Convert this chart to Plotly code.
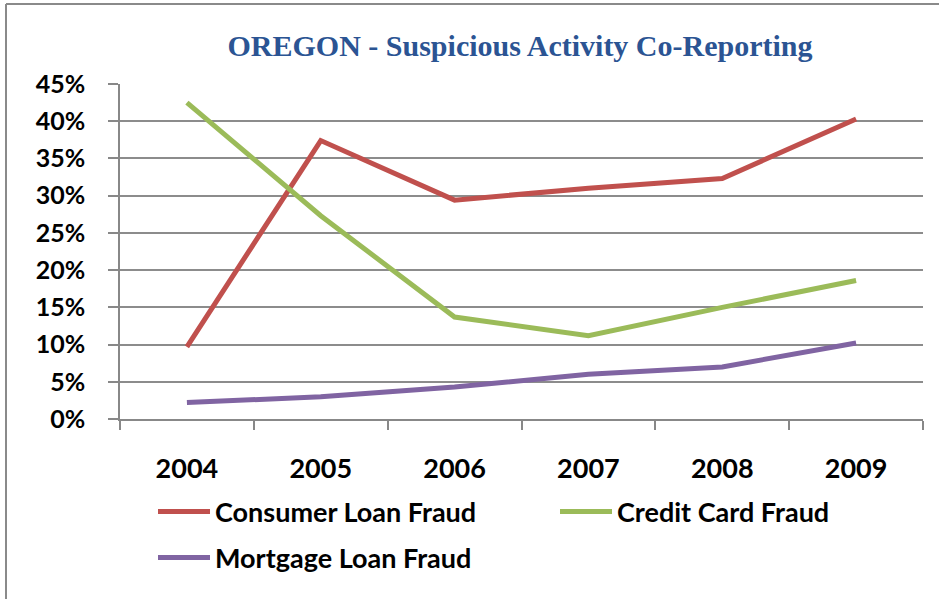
import plotly.graph_objects as go

years = ["2004", "2005", "2006", "2007", "2008", "2009"]
consumer = [9.7, 37.4, 29.4, 31.0, 32.3, 40.3]
credit = [42.5, 27.3, 13.7, 11.2, 15.0, 18.6]
mortgage = [2.2, 3.0, 4.3, 6.0, 7.0, 10.2]
ytick_vals = [0, 5, 10, 15, 20, 25, 30, 35, 40, 45]
ytick_text = [f"{v}%" for v in ytick_vals]

W, H = 939, 599
L, R, T, B = 120, 16, 84, 180
PW, PH = W - L - R, H - T - B

def px(x):
    return (x - L) / PW

def py(y):
    return (H - B - y) / PH

FONT = "Lato"
fig = go.Figure()
series = [
    ("Consumer Loan Fraud", consumer, "#C0504D", "legend"),
    ("Credit Card Fraud", credit, "#9BBB59", "legend2"),
    ("Mortgage Loan Fraud", mortgage, "#8064A2", "legend3"),
]
for name, vals, col, lg in series:
    fig.add_trace(go.Scatter(x=years, y=vals, name=name, mode="lines",
                             line=dict(color=col, width=5), legend=lg))

legend_common = dict(orientation="h", xanchor="left", yanchor="middle",
                     font=dict(family=FONT, size=27, color="black", weight="bold"),
                     itemwidth=52, bgcolor="rgba(0,0,0,0)")
fig.update_layout(
    width=W, height=H,
    margin=dict(l=L, r=R, t=T, b=B, autoexpand=False),
    paper_bgcolor="white", plot_bgcolor="white",
    title=dict(text="<b>OREGON - Suspicious Activity Co-Reporting</b>",
               font=dict(family="Liberation Serif", size=30, color="#2B5493"),
               x=520 / W, xanchor="center", y=1 - 45 / H, yanchor="middle"),
    legend=dict(x=px(153), y=py(512), **legend_common),
    legend2=dict(x=px(555), y=py(512), **legend_common),
    legend3=dict(x=px(153), y=py(558), **legend_common),
    xaxis=dict(type="category", range=[-0.5, 5.5], showgrid=False, showline=True,
               linecolor="#888888", linewidth=1.5, ticks="outside",
               tickson="boundaries", ticklen=9, tickcolor="#888888",
               tickwidth=1.5, ticklabelstandoff=25, automargin=False,
               tickfont=dict(family=FONT, size=27, color="black", weight="bold"),
               fixedrange=True),
    yaxis=dict(range=[0, 45], tickvals=ytick_vals, ticktext=ytick_text,
               showgrid=True, gridcolor="#8c8c8c", gridwidth=1.5,
               showline=True, linecolor="#888888", linewidth=1.5,
               ticks="outside", ticklen=10, tickcolor="#888888",
               tickwidth=1.5, ticklabelstandoff=18, zeroline=False,
               automargin=False,
               tickfont=dict(family=FONT, size=25, color="black", weight="bold")),
    showlegend=True,
)
# outer chart border (top and left edges visible)
fig.add_shape(type="line", xref="paper", yref="paper",
              x0=px(6), x1=px(W + 5), y0=py(4), y1=py(4),
              line=dict(color="#8a8a8a", width=2))
fig.add_shape(type="line", xref="paper", yref="paper",
              x0=px(6), x1=px(6), y0=py(4), y1=py(H + 5),
              line=dict(color="#8a8a8a", width=2))

fig.write_html("out.html", config={"displayModeBar": False},
               post_script="document.body.style.margin='0';")
